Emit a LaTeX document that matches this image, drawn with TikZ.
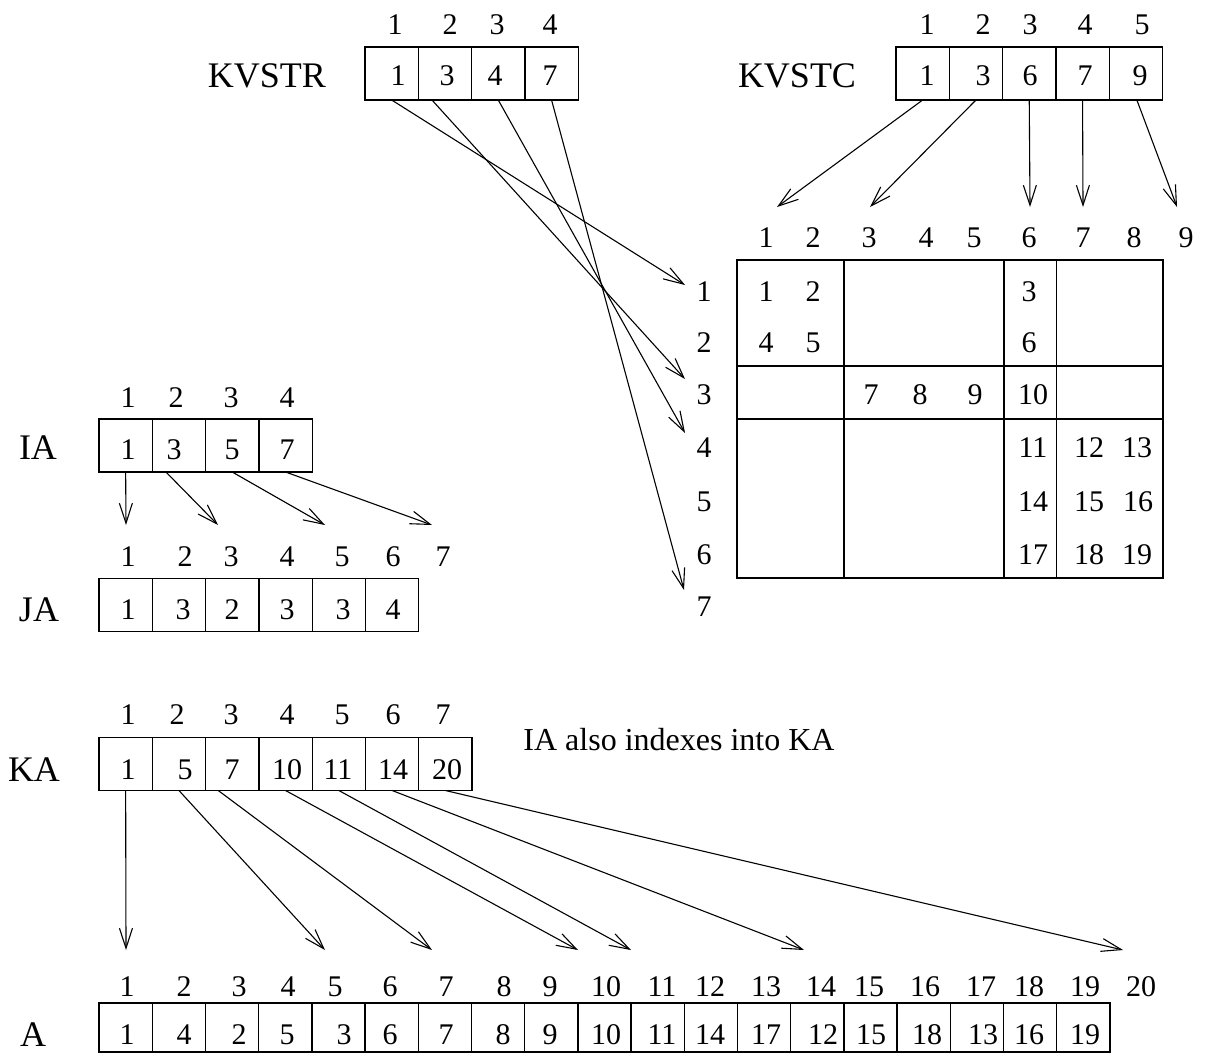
\documentclass[tikz,border=0pt]{standalone}
\usepackage{fontspec}
\setmainfont{Liberation Serif}
\usetikzlibrary{arrows.meta}
\begin{document}
\begin{tikzpicture}[x=1pt,y=-1pt,
  cell/.style={draw,line width=1.3pt,minimum width=53.3pt,minimum height=53pt,inner sep=0pt,outer sep=0pt},
  num/.style={font=\fontsize{30}{36}\selectfont,inner sep=0pt},
  lbl/.style={font=\fontsize{36}{43}\selectfont,inner sep=0pt},
  captext/.style={font=\fontsize{32}{38}\selectfont,inner sep=0pt},
  arr/.style={-{Straight Barb[length=20pt,width=13pt]},line width=1.1pt},
  gridline/.style={line width=1.3pt}]
\useasboundingbox (0,0) rectangle (1206,1053);

% ---------------- KVSTR ----------------
\node[lbl] (lkvstr) at (267,76) {KVSTR};
\foreach \i in {1,...,4} \node[cell] (kr\i) at ({365+(\i-0.5)*53.3},73.5) {};
\foreach \x [count=\i] in {395,450,497,550} \node[num] (krh\i) at (\x,25) {\i};
\foreach \v/\x [count=\i] in {1/398,3/447,4/495,7/550} \node[num] (krv\i) at (\x,76) {\v};

% ---------------- KVSTC ----------------
\node[lbl] (lkvstc) at (797,76) {KVSTC};
\foreach \i in {1,...,5} \node[cell] (kc\i) at ({896+(\i-0.5)*53.3},73.5) {};
\foreach \x [count=\i] in {927,983,1030,1085,1142} \node[num] (kch\i) at (\x,25) {\i};
\foreach \v/\x [count=\i] in {1/927,3/983,6/1030,7/1085,9/1140} \node[num] (kcv\i) at (\x,76) {\v};

% ---------------- matrix ----------------
\foreach \x [count=\i] in {766,813,869,926,974,1029,1083,1134,1186} \node[num] (mc\i) at (\x,238) {\i};
\foreach \y [count=\i] in {292,343,395,448,502,555,607} \node[num] (mr\i) at (704,\y) {\i};
\node[draw,line width=1.3pt,minimum width=426pt,minimum height=318pt,inner sep=0pt,outer sep=0pt] (M) at (950,419) {};
\foreach \x in {844,1004,1056.5} \draw[gridline] (\x,260) -- (\x,578);
\foreach \y in {366,419} \draw[gridline] (737,\y) -- (1163,\y);
\foreach \v/\x/\y in {1/766/292,2/813/292,3/1029/292,4/766/343,5/813/343,6/1029/343,
  7/871/395,8/920/395,9/975/395,10/1033/395,11/1033/448,12/1089/448,13/1137/448,
  14/1033/502,15/1089/502,16/1138/502,17/1033/555,18/1089/555,19/1137/555}
  \node[num] (m\v) at (\x,\y) {\v};

% tips of KVSTC arrows
\coordinate (tc1) at (777,207);
\coordinate (tc2) at (870,207);
\coordinate (tc3) at (1030,207);
\coordinate (tc4) at (1083,207);
\coordinate (tc5) at (1177,207);
\draw[arr] (kc1.south) -- (tc1);
\draw[arr] (kc2.south) -- (tc2);
\draw[arr] (kc3.south) -- (tc3);
\draw[arr] (kc4.south) -- (tc4);
\draw[arr] ([xshift=1pt]kc5.south) -- (tc5);

% tips of KVSTR arrows
\coordinate (tr1) at (685,285);
\coordinate (tr3) at (685,379);
\coordinate (tr4) at (685,433);
\coordinate (tr7) at (684,590);
\draw[arr] (kr1.south) -- (tr1);
\draw[arr] ([xshift=-13pt]kr2.south) -- (tr3);
\draw[arr] (kr3.south) -- (tr4);
\draw[arr] (kr4.south) -- (tr7);

% ---------------- IA ----------------
\node[lbl] (lia) at (38,448) {IA};
\foreach \i in {1,...,4} \node[cell] (ia\i) at ({99+(\i-0.5)*53.3},445.5) {};
\foreach \x [count=\i] in {128,176,231,287} \node[num] (iah\i) at (\x,398) {\i};
\foreach \v/\x [count=\i] in {1/128,3/174,5/232,7/287} \node[num] (iav\i) at (\x,450) {\v};

% ---------------- JA ----------------
\node[lbl] (lja) at (39,610) {JA};
\foreach \i in {1,...,6} \node[cell] (ja\i) at ({99+(\i-0.5)*53.3},605) {};
\foreach \x [count=\i] in {128,185,231,287,342,393,443} \node[num] (jah\i) at (\x,557) {\i};
\foreach \v/\x [count=\i] in {1/128,3/183,2/232,3/287,3/343,4/393} \node[num] (jav\i) at (\x,610) {\v};

\coordinate (ti1) at (126,525);
\coordinate (ti2) at (218,525);
\coordinate (ti3) at (325,525);
\coordinate (ti4) at (432,525);
\draw[arr] (ia1.south) -- (ti1);
\draw[arr] ([xshift=-13pt]ia2.south) -- (ti2);
\draw[arr] (ia3.south) -- (ti3);
\draw[arr] (ia4.south) -- (ti4);

% ---------------- KA ----------------
\node[lbl] (lka) at (34,770) {KA};
\foreach \i in {1,...,7} \node[cell] (ka\i) at ({99+(\i-0.5)*53.3},764) {};
\foreach \x [count=\i] in {128,177,231,287,342,393,443} \node[num] (kah\i) at (\x,715) {\i};
\foreach \v/\x [count=\i] in {1/128,5/185,7/232,10/287,11/338,14/393,20/447} \node[num] (kav\i) at (\x,770) {\v};
\node[captext] (caption) at (679,740) {IA also indexes into KA};

% ---------------- A ----------------
\node[lbl] (la) at (33,1035) {A};
\foreach \i in {1,...,19} \node[cell,minimum height=49pt] (a\i) at ({99+(\i-0.5)*53.2},1027.5) {};
\foreach \x [count=\i] in {127,184,239,288,335,390,446,504,550,606,662,710,766,821,869,925,981,1029,1085,1141}
  \node[num] (ah\i) at (\x,987) {\i};
\foreach \v/\x [count=\i] in {1/127,4/184,2/239,5/287,3/344,6/390,7/446,8/503,9/550,10/606,
  11/662,14/710,17/766,12/823,15/871,18/927,13/983,16/1029,19/1085}
  \node[num] (av\i) at (\x,1035) {\v};

\coordinate (tk1) at (126,950);
\coordinate (tk2) at (325,950);
\coordinate (tk3) at (432,950);
\coordinate (tk4) at (578,950);
\coordinate (tk5) at (631,950);
\coordinate (tk6) at (804,950);
\coordinate (tk7) at (1123,950);
\draw[arr] (ka1.south) -- (tk1);
\draw[arr] (ka2.south) -- (tk2);
\draw[arr] ([xshift=-14pt]ka3.south) -- (tk3);
\draw[arr] (ka4.south) -- (tk4);
\draw[arr] (ka5.south) -- (tk5);
\draw[arr] (ka6.south) -- (tk6);
\draw[arr] (ka7.south) -- (tk7);
\end{tikzpicture}
\end{document}
